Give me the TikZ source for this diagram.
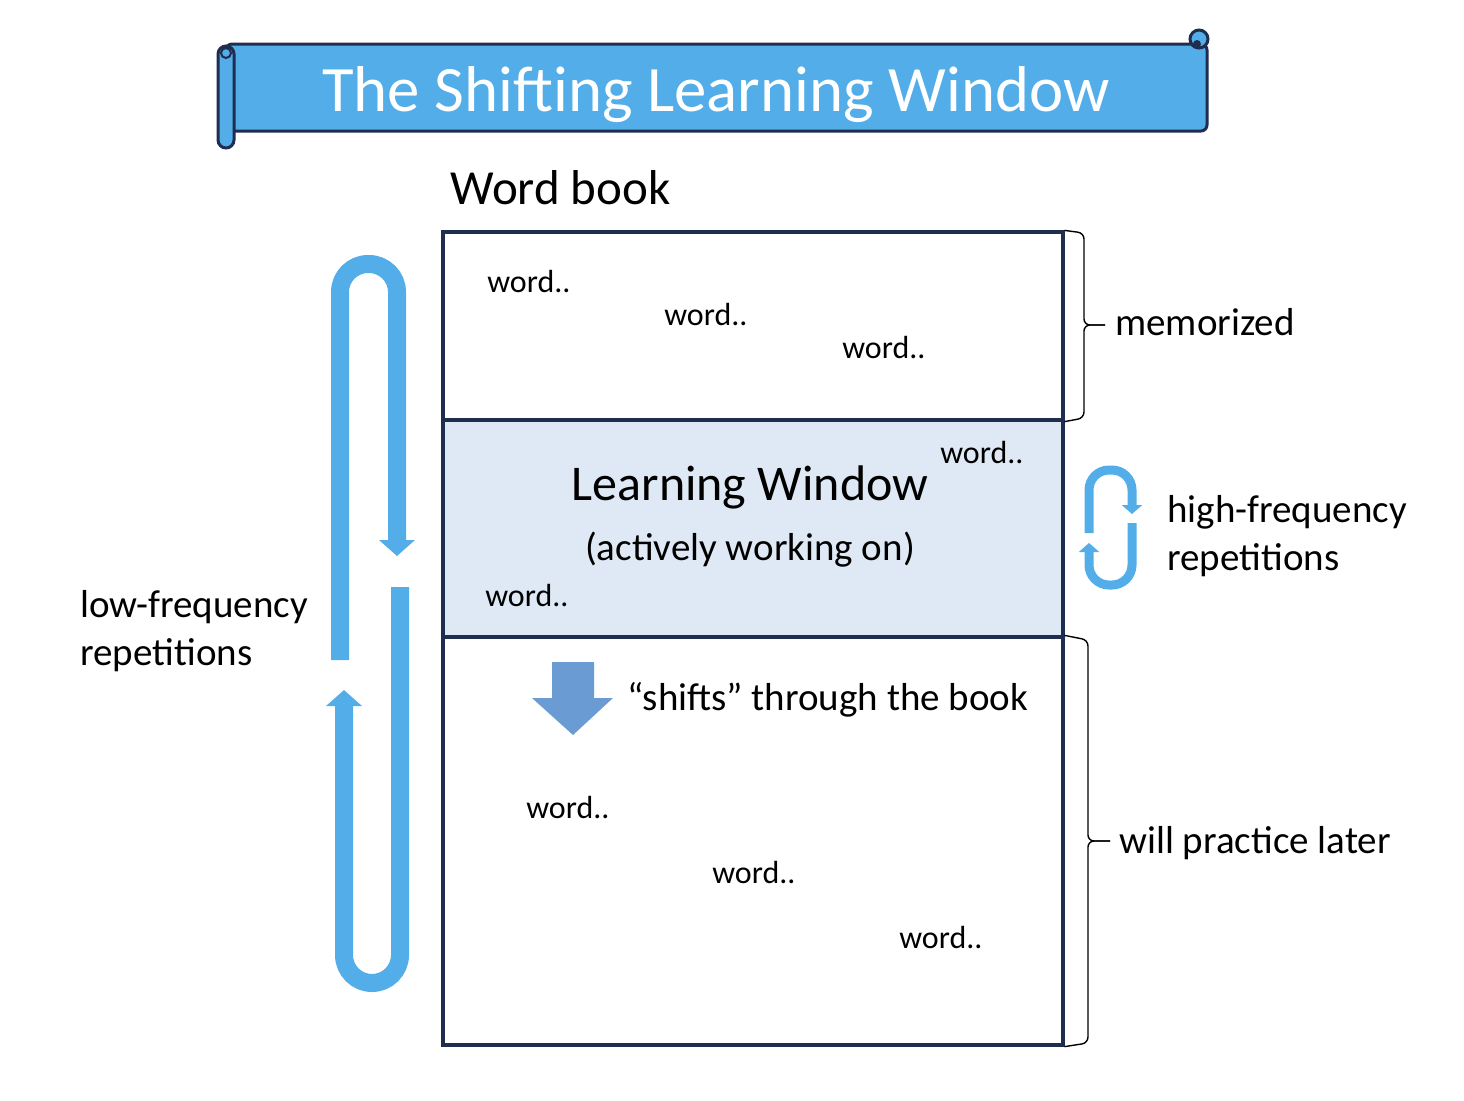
\documentclass[tikz,border=0pt]{standalone}
\usepackage{fontspec}
\setmainfont{Carlito}
\usetikzlibrary{arrows.meta}

\definecolor{bannerblue}{RGB}{82,173,233}
\definecolor{navy}{RGB}{31,45,79}
\definecolor{loopblue}{RGB}{82,173,233}
\definecolor{shiftblue}{RGB}{106,155,210}
\definecolor{windowfill}{RGB}{222,233,245}

\tikzset{
  sect/.style = {draw = navy, line width = 1.6pt, minimum width = 310pt, inner sep = 0pt},
  txt/.style = {font = \fontsize{19.5}{24}\selectfont, inner sep = 0pt},
  wordtxt/.style = {font = \fontsize{16}{19}\selectfont, anchor = base west, inner sep = 0pt},
  bigloop/.style = {draw = loopblue, line width = 9pt, rounded corners = 14pt},
  smallloop/.style = {draw = loopblue, line width = 4.5pt, rounded corners = 10pt},
  bracket/.style = {draw = black, line width = 0.7pt, rounded corners = 3pt}
}

\begin{document}
\begin{tikzpicture}[x = 0.5pt, y = -0.5pt]
\useasboundingbox (0, 0) rectangle (1464, 1100);

% title banner
\filldraw [fill = bannerblue, draw = navy, line width = 1.5pt, rounded corners = 3pt] (226, 44) rectangle (1207, 131);
\filldraw [fill = bannerblue, draw = navy, line width = 1.5pt] (1199, 39) circle [radius = 4.5pt];
\fill [navy] (1197, 44) circle [radius = 2pt];
\filldraw [fill = bannerblue, draw = navy, line width = 1.5pt, rounded corners = 4pt] (218, 46) rectangle (234, 148);
\draw [navy, line width = 1pt] (226, 53) circle [radius = 2.5pt];
\node [font = \fontsize{32.4}{38}\selectfont, text = white, anchor = base, inner sep = 0pt] (title) at (716, 111) {The Shifting Learning Window};

\node [font = \fontsize{24.5}{29}\selectfont, anchor = base west, inner sep = 0pt] (book) at (450, 204) {Word book};

% the book
\node [sect, minimum height = 94pt] (memo) at (753, 326) {};
\node [sect, minimum height = 108.5pt, fill = windowfill] (window) at (753, 528.5) {};
\node [sect, minimum height = 204pt] (later) at (753, 841) {};

\node [wordtxt] (w0) at (487, 292) {word..};
\node [wordtxt] (w1) at (664, 325) {word..};
\node [wordtxt] (w2) at (842, 358) {word..};
\node [wordtxt] (w3) at (940, 463) {word..};
\node [wordtxt] (w4) at (485, 606) {word..};
\node [wordtxt] (w5) at (526, 818) {word..};
\node [wordtxt] (w6) at (712, 883) {word..};
\node [wordtxt] (w7) at (899, 948) {word..};

\node [font = \fontsize{25}{30}\selectfont, anchor = base, inner sep = 0pt] (wintitle) at (750, 500) {Learning Window};
\node [txt, anchor = base] (winsub) at (750, 560) {(actively working on)};

% shift arrow
\fill [shiftblue] (552, 662) -- (594, 662) -- (594, 698) -- (613, 698) -- (573, 735) -- (532, 698) -- (552, 698) -- cycle;
\node [txt, anchor = base west] (shift) at (627, 710) {“shifts” through the book};

% low-frequency loop
\path [bigloop, -{Triangle[width = 17.5pt, length = 8pt]}] (340, 660) -- (340, 264) -- (397, 264) -- (397, 556);
\path [bigloop, -{Triangle[width = 17.5pt, length = 8pt]}] (400, 587) -- (400, 983) -- (344, 983) -- (344, 690);
\node [txt, anchor = west, align = left] (low) at (80, 631) {low-frequency\\repetitions};

% high-frequency loop
\path [smallloop, -{Triangle[width = 10pt, length = 4.5pt]}] (1089, 533) -- (1089, 470) -- (1132, 470) -- (1132, 514);
\path [smallloop, -{Triangle[width = 10pt, length = 4.5pt]}] (1132, 523) -- (1132, 585) -- (1089, 585) -- (1089, 543);
\node [txt, anchor = west, align = left] (high) at (1167, 536) {high-frequency\\repetitions};

% braces
\path [bracket] (memo.north east) -- (1084, 233) -- (1084, 325) -- (1105, 325);
\path [bracket] (memo.south east) -- (1084, 418) -- (1084, 325) -- (1105, 325);
\node [txt, anchor = base west] (memorized) at (1115, 335) {memorized};

\path [bracket] (later.north east) -- (1088, 640) -- (1088, 841) -- (1110, 841);
\path [bracket] (later.south east) -- (1088, 1043) -- (1088, 841) -- (1110, 841);
\node [txt, anchor = base west] (practice) at (1119, 853) {will practice later};
\end{tikzpicture}
\end{document}
